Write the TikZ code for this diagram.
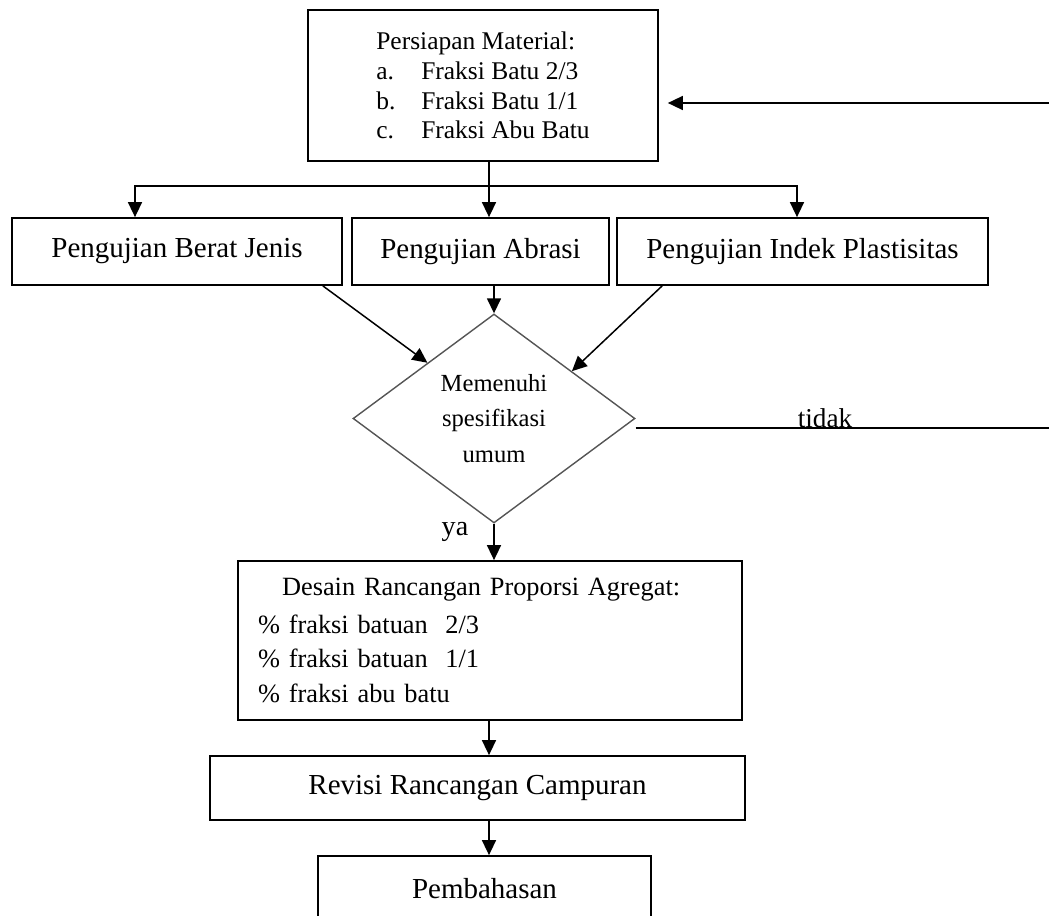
\documentclass[tikz,border=0pt]{standalone}
\usepackage{fontspec}
\setmainfont{Liberation Serif}
\usepackage{tikz}
\usetikzlibrary{arrows.meta, positioning, calc, shapes.geometric}
\definecolor{flowgray}{HTML}{555555}

\begin{document}
\begin{tikzpicture}[
  x=0.02cm, y=-0.02cm,
  box/.style={draw, line width=1pt, inner sep=0pt,
    font=\fontsize{16.5}{20}\selectfont},
  lbl/.style={font=\fontsize{16}{19}\selectfont, inner sep=0pt},
  conn/.style={line width=0.85pt},
  arr/.style={conn, -{Triangle[length=0.3cm, width=0.28cm]}}
]
  \useasboundingbox (0,0) rectangle (1049,916);
  \clip (0,0) rectangle (1049,916);

  % Material preparation
  \node[box, minimum width=7cm, minimum height=3.02cm, align=left,
    font=\fontsize{14.5}{17}\selectfont] (bahan) at (483,85.5)
    {Persiapan Material:\\
     \makebox[0.9cm][l]{a.}Fraksi Batu 2/3\\
     \makebox[0.9cm][l]{b.}Fraksi Batu 1/1\\
     \makebox[0.9cm][l]{c.}Fraksi Abu Batu};

  % Tests
  \node[box, minimum width=6.6cm, minimum height=1.34cm]
    (berat) at (177,251.5) {Pengujian Berat Jenis};
  \node[box, minimum width=5.14cm, minimum height=1.34cm]
    (abrasi) at (480.5,251.5) {Pengujian Abrasi};
  \node[box, minimum width=7.42cm, minimum height=1.34cm]
    (indek) at (802.5,251.5) {Pengujian Indek Plastisitas};

  % Branching from the material box
  \coordinate (pusat) at (489,186);
  \coordinate (kiri) at (135,186);
  \coordinate (kanan) at (797,186);
  \draw[conn] (bahan.south -| pusat) -- (pusat);
  \draw[arr] (pusat) -- (pusat |- abrasi.north);
  \draw[arr] (pusat) -- (kiri) -- (kiri |- berat.north);
  \draw[arr] (pusat) -- (kanan) -- (kanan |- indek.north);

  % Decision
  \node[diamond, aspect=1.35, draw=flowgray, line width=0.8pt,
    minimum width=5.64cm, minimum height=4.18cm, inner sep=0pt,
    align=center, font=\fontsize{14}{20}\selectfont]
    (spek) at (494,418.5) {Memenuhi\\spesifikasi\\umum};

  \draw[arr] ($(berat.south east)+(-20,0)$) -- ($(spek.north)!0.47!(spek.west)$);
  \draw[arr] (abrasi.south -| spek.north) -- (spek.north);
  \draw[arr] ($(indek.south west)+(46,0)$) -- ($(spek.north)!0.55!(spek.east)$);

  % Back to the material box
  \coordinate (tidakujung) at (1049,428);
  \coordinate (balik) at (1049,103);
  \draw[conn] (spek.east |- tidakujung) -- (tidakujung);
  \node[lbl, anchor=base, font=\fontsize{15.5}{18}\selectfont]
    (tidak) at (825,427) {tidak};
  \draw[arr, shorten >=0.18cm] (balik) -- (bahan.east |- balik);

  % Mix design
  \node[lbl] (ya) at (455,532) {ya};
  \node[box, minimum width=10.08cm, minimum height=3.18cm,
    text width=9.28cm, inner xsep=0.4cm, align=left,
    font=\fontsize{15}{19.5}\selectfont] (desain) at (490,640.5)
    {\hspace*{0.48cm}Desain Rancangan Proporsi Agregat:\\[2pt]
     \% fraksi batuan~~2/3\\
     \% fraksi batuan~~1/1\\
     \% fraksi abu batu};
  \draw[arr] (spek.south) -- (spek.south |- desain.north);

  % Revision and discussion
  \node[box, minimum width=10.7cm, minimum height=1.28cm]
    (revisi) at (477.5,788) {Revisi Rancangan Campuran};
  \node[box, minimum width=6.66cm, minimum height=1.3cm]
    (bahas) at (484.5,888.5) {Pembahasan};
  \draw[arr] (desain.south -| pusat) -- (pusat |- revisi.north);
  \draw[arr] (revisi.south -| pusat) -- (pusat |- bahas.north);
\end{tikzpicture}
\end{document}
